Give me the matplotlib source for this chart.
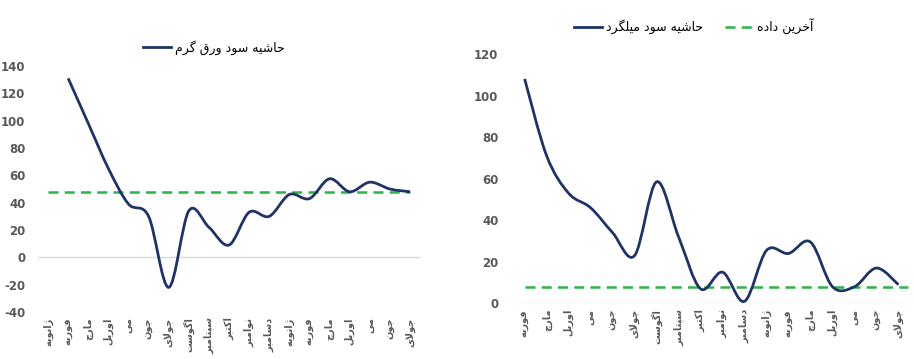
import matplotlib
matplotlib.use("Agg")
import matplotlib.pyplot as plt
from matplotlib.path import Path
from matplotlib.patches import PathPatch
from matplotlib.lines import Line2D

plt.rcParams["axes.unicode_minus"] = False

# ---- data ----
months_left = ["ژانویه", "فوریه", "مارچ", "اوریل", "می", "جون", "جولای", "اگوست",
               "سپتامبر", "اکتبر", "نوامبر", "دسامبر", "ژانویه", "فوریه", "مارچ",
               "اوریل", "می", "جون", "جولای"]
sheet_margin = [None, 131, 98, 65, 39, 30, -22, 34, 22, 9, 33, 30, 46, 43, 57.5,
                48, 55, 50, 48]
sheet_last = 48

months_right = ["فوریه", "مارچ", "اوریل", "می", "جون", "جولای", "اگوست", "سپتامبر",
                "اکتبر", "نوامبر", "دسامبر", "ژانویه", "فوریه", "مارچ", "اوریل",
                "می", "جون", "جولای"]
rebar_margin = [108, 71, 53, 46, 34, 23, 58.5, 32, 7, 15, 1, 25.5, 24, 29.5, 8,
                8, 17, 9]
rebar_last = 8

label_sheet = "حاشیه سود ورق گرم"
label_rebar = "حاشیه سود میلگرد"
label_last = "آخرین داده"

NAVY = "#1F3366"
GREEN = "#2DB34A"
GRAY = "#595959"

# ---- minimal arabic/persian shaping (matplotlib has no shaping engine) ----
FORMS = {
    "ا": ("\uFE8D", "\uFE8E", None, None),
    "آ": ("\uFE81", "\uFE82", None, None),
    "د": ("\uFEA9", "\uFEAA", None, None),
    "ر": ("\uFEAD", "\uFEAE", None, None),
    "ژ": ("\uFB8A", "\uFB8B", None, None),
    "و": ("\uFEED", "\uFEEE", None, None),
    "ب": ("\uFE8F", "\uFE90", "\uFE91", "\uFE92"),
    "پ": ("\uFB56", "\uFB57", "\uFB58", "\uFB59"),
    "ت": ("\uFE95", "\uFE96", "\uFE97", "\uFE98"),
    "ج": ("\uFE9D", "\uFE9E", "\uFE9F", "\uFEA0"),
    "چ": ("\uFB7A", "\uFB7B", "\uFB7C", "\uFB7D"),
    "ح": ("\uFEA1", "\uFEA2", "\uFEA3", "\uFEA4"),
    "خ": ("\uFEA5", "\uFEA6", "\uFEA7", "\uFEA8"),
    "س": ("\uFEB1", "\uFEB2", "\uFEB3", "\uFEB4"),
    "ش": ("\uFEB5", "\uFEB6", "\uFEB7", "\uFEB8"),
    "ف": ("\uFED1", "\uFED2", "\uFED3", "\uFED4"),
    "ق": ("\uFED5", "\uFED6", "\uFED7", "\uFED8"),
    "ک": ("\uFB8E", "\uFB8F", "\uFB90", "\uFB91"),
    "گ": ("\uFB92", "\uFB93", "\uFB94", "\uFB95"),
    "ل": ("\uFEDD", "\uFEDE", "\uFEDF", "\uFEE0"),
    "م": ("\uFEE1", "\uFEE2", "\uFEE3", "\uFEE4"),
    "ن": ("\uFEE5", "\uFEE6", "\uFEE7", "\uFEE8"),
    "ه": ("\uFEE9", "\uFEEA", "\uFEEB", "\uFEEC"),
    "ی": ("\uFBFC", "\uFBFD", "\uFBFE", "\uFBFF"),
}


def joins_left(c):
    return c in FORMS and FORMS[c][2] is not None


def shape_word(w):
    # lam-alef ligature first
    chars = []
    i = 0
    while i < len(w):
        if w[i] == "ل" and i + 1 < len(w) and w[i + 1] == "ا":
            chars.append("LA")
            i += 2
        else:
            chars.append(w[i])
            i += 1
    out = []
    for k, c in enumerate(chars):
        prev = chars[k - 1] if k > 0 else None
        nxt = chars[k + 1] if k + 1 < len(chars) else None
        jp = prev is not None and (prev != "LA") and joins_left(prev)
        if c == "LA":
            out.append("\uFEFC" if jp else "\uFEFB")
            continue
        if c not in FORMS:
            out.append(c)
            continue
        isol, fin, ini, med = FORMS[c]
        jn = nxt is not None and (nxt == "LA" or nxt in FORMS) and ini is not None
        if jp and jn:
            out.append(med)
        elif jp:
            out.append(fin)
        elif jn:
            out.append(ini)
        else:
            out.append(isol)
    return "".join(out)[::-1]


def fa(text):
    return " ".join(shape_word(w) for w in text.split(" ")[::-1])


def smooth_path(xs, ys):
    # excel-like smoothed line as cubic bezier segments
    pts = [(x, y) for x, y in zip(xs, ys) if y is not None]
    verts = [pts[0]]
    codes = [Path.MOVETO]
    n = len(pts)
    for i in range(n - 1):
        p0 = pts[i - 1] if i > 0 else pts[i]
        p1 = pts[i]
        p2 = pts[i + 1]
        p3 = pts[i + 2] if i + 2 < n else pts[i + 1]
        c1 = (p1[0] + (p2[0] - p0[0]) / 6, p1[1] + (p2[1] - p0[1]) / 6)
        c2 = (p2[0] - (p3[0] - p1[0]) / 6, p2[1] - (p3[1] - p1[1]) / 6)
        verts += [c1, c2, p2]
        codes += [Path.CURVE4] * 3
    return Path(verts, codes)


fig = plt.figure(figsize=(9.14, 3.59), dpi=100)

ax1 = fig.add_axes([0.0416, 0.131, 0.418, 0.685])
ax2 = fig.add_axes([0.562, 0.155, 0.433, 0.6945])


def style(ax, labels, ylim, yticks, ypad):
    for s in ax.spines.values():
        s.set_visible(False)
    ax.set_xlim(-0.5, len(labels) - 0.5)
    ax.set_ylim(*ylim)
    ax.set_yticks(yticks)
    ax.set_xticks(range(len(labels)))
    ax.set_xticklabels([fa(m) for m in labels], rotation=90, va="top",
                       ha="center", fontsize=7, color=GRAY, fontweight="bold")
    ax.tick_params(axis="x", length=0, pad=4)
    ax.tick_params(axis="y", length=0, pad=ypad, labelsize=8.5, labelcolor=GRAY)
    for t in ax.get_yticklabels():
        t.set_fontweight("bold")
    ax.axhline(0, color="#D9D9D9", lw=1, zorder=1)


# left chart: hot-rolled sheet
x1 = list(range(len(months_left)))
style(ax1, months_left, (-40, 140), range(-40, 141, 20), 9)
ax1.add_patch(PathPatch(smooth_path(x1, sheet_margin), fill=False,
                        edgecolor=NAVY, lw=2, zorder=3))
ax1.plot(x1, [sheet_last] * len(x1), color=GREEN, lw=1.8, ls=(0, (4, 2.5)),
         zorder=2)
h1 = [Line2D([], [], color=NAVY, lw=2)]
ax1.legend(h1, [fa(label_sheet)], loc="lower center", bbox_to_anchor=(0.46, 1.0),
           frameon=False, fontsize=9, handlelength=2.2, handletextpad=0.3)

# right chart: rebar
x2 = list(range(len(months_right)))
style(ax2, months_right, (0, 120), range(0, 121, 20), 11)
ax2.add_patch(PathPatch(smooth_path(x2, rebar_margin), fill=False,
                        edgecolor=NAVY, lw=2, zorder=3))
ax2.plot([x2[0], x2[-1] + 0.45], [rebar_last, rebar_last], color=GREEN, lw=1.8,
         ls=(0, (4, 2.5)), zorder=2)
h2 = [Line2D([], [], color=NAVY, lw=2),
      Line2D([], [], color=GREEN, lw=1.8, ls=(0, (4, 2.5)))]
ax2.legend(h2, [fa(label_rebar), fa(label_last)], loc="lower center",
           bbox_to_anchor=(0.455, 1.035), ncol=2, frameon=False, fontsize=9,
           handlelength=2.2, handletextpad=0.3, columnspacing=1.8)

fig.savefig("out.png", dpi=100)
